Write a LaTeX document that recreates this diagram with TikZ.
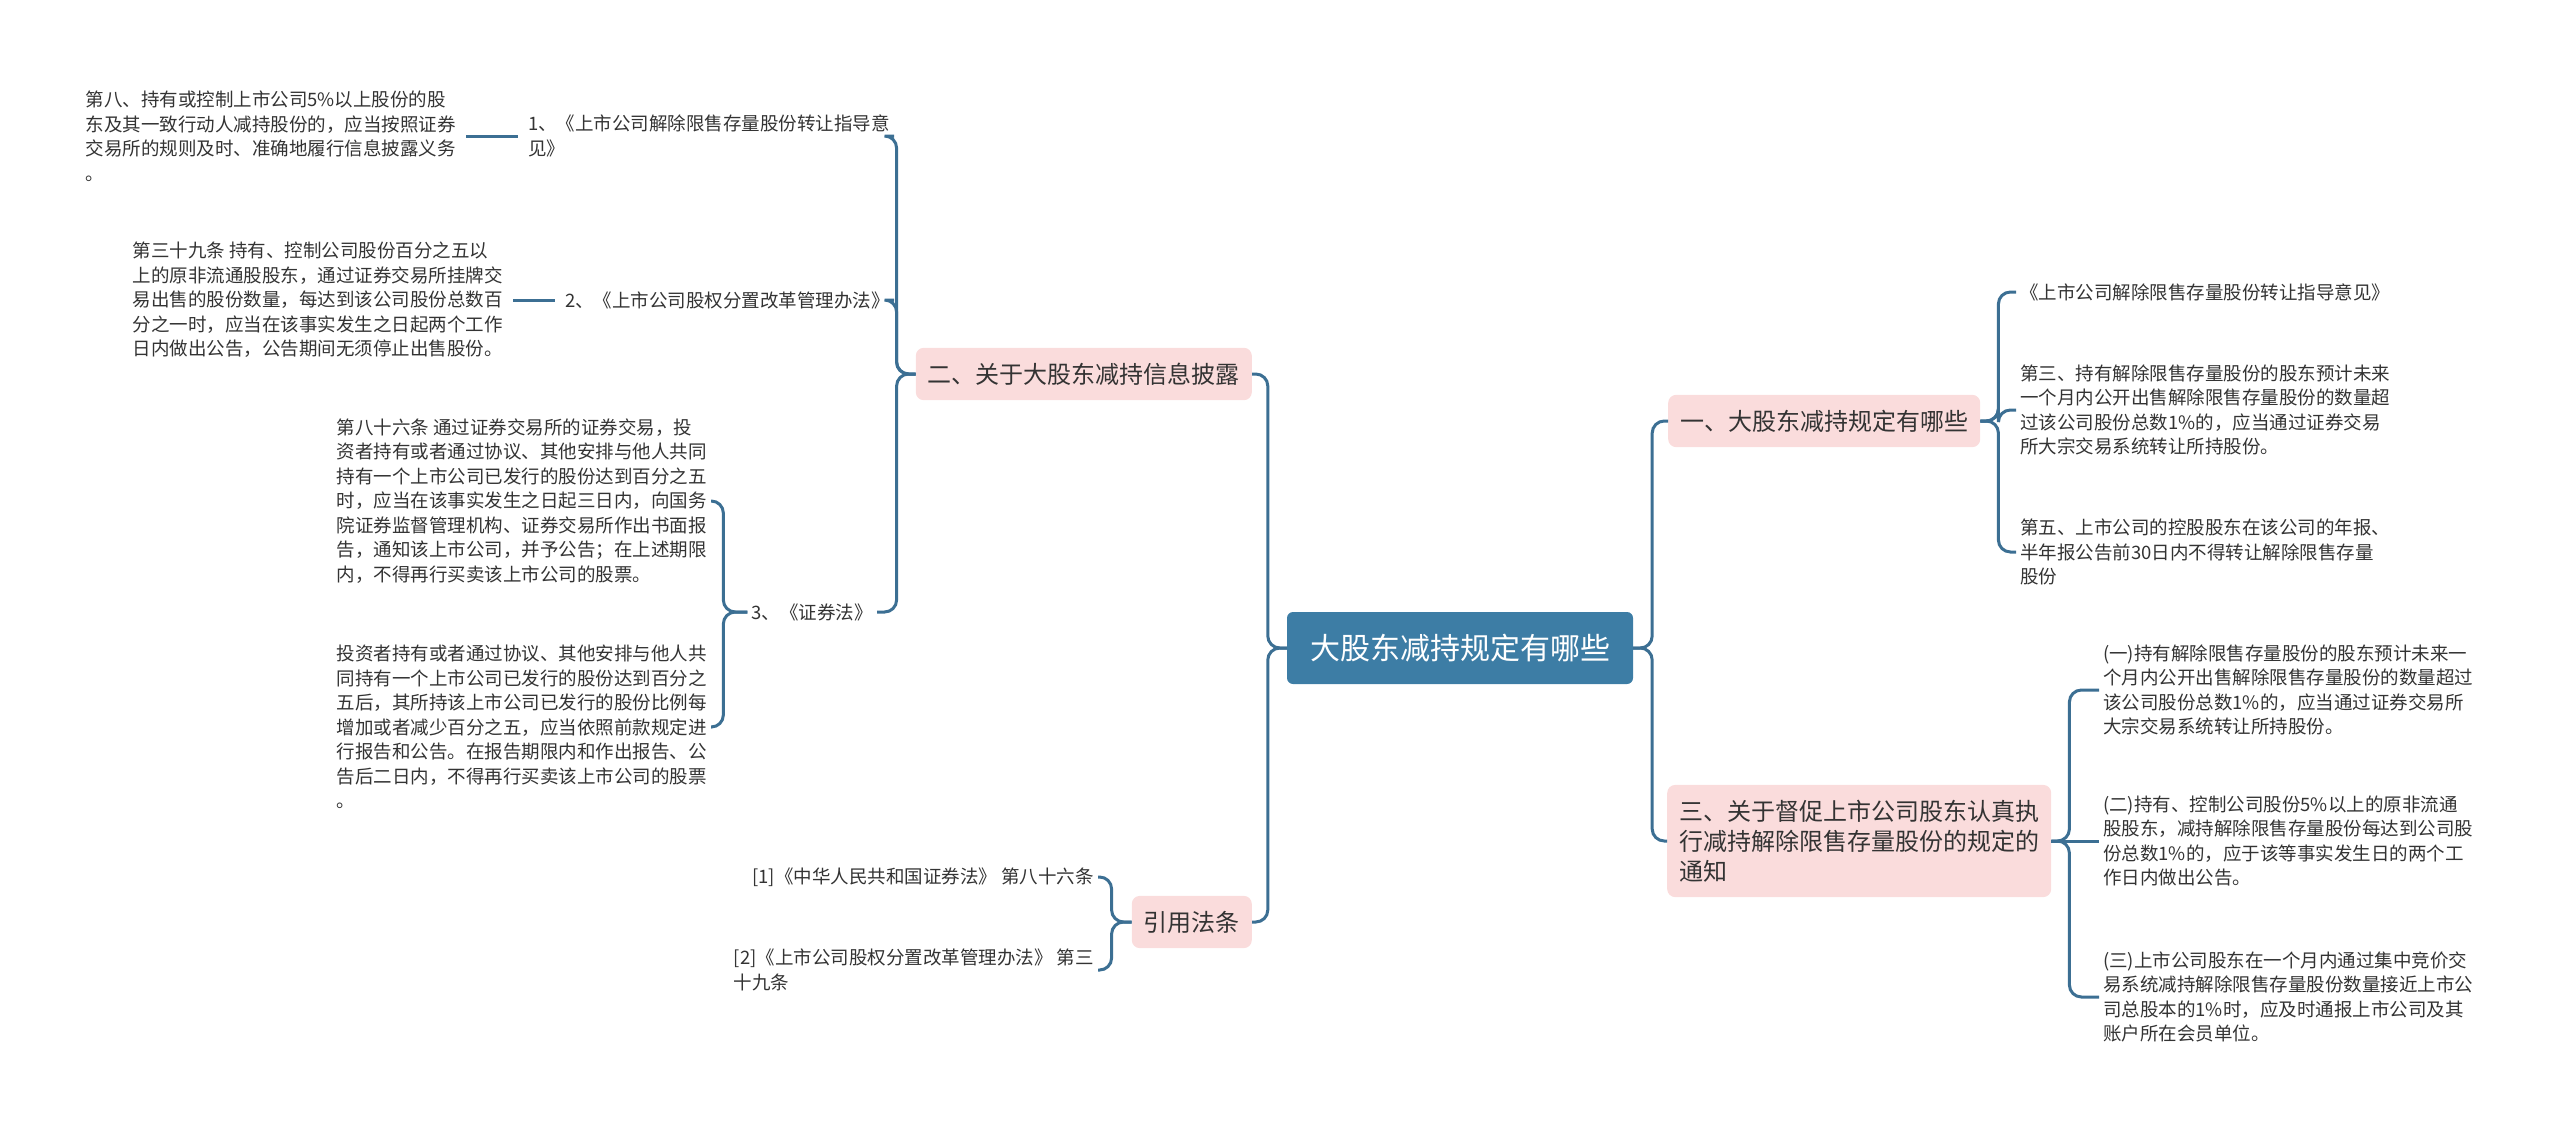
\documentclass[tikz,border=0pt]{standalone}
\usepackage{fontspec}
\setmainfont{Noto Sans CJK SC}
\usetikzlibrary{positioning}

\definecolor{linkblue}{HTML}{3C6F93}
\definecolor{rootblue}{HTML}{3D7DA5}
\definecolor{topicpink}{HTML}{FADCDC}
\definecolor{textgray}{HTML}{333333}

\begin{document}
\begin{tikzpicture}[
x=1pt, y=-1pt,
node distance=44pt,
rootbox/.style={fill=rootblue, rounded corners=6pt, text=white, font=\fontsize{30}{36}\selectfont, inner xsep=23pt, minimum height=72pt},
topic/.style={fill=topicpink, rounded corners=8pt, text=textgray, align=left, font=\fontsize{24}{30}\selectfont, inner xsep=12pt, inner ysep=15pt},
leaf/.style={text=textgray, align=left, inner sep=4pt, font=\fontsize{18.5}{24.5}\selectfont},
link/.style={draw=linkblue, line width=3pt, rounded corners=12pt}
]
\useasboundingbox (0,0) rectangle (2560,1132);

\node[rootbox] (root) at (1460,648) {大股东减持规定有哪些};

% right side
\node[topic, anchor=west] (rules) at (1668,421) {一、大股东减持规定有哪些};
\node[topic, anchor=west] (notice) at (1667,841) {三、关于督促上市公司股东认真执\\行减持解除限售存量股份的规定的\\通知};

\node[leaf, anchor=west] (rulesA) at (2016,292) {《上市公司解除限售存量股份转让指导意见》};
\node[leaf, anchor=west] (rulesB) at (2016,410) {第三、持有解除限售存量股份的股东预计未来\\一个月内公开出售解除限售存量股份的数量超\\过该公司股份总数1\%的，应当通过证券交易\\所大宗交易系统转让所持股份。};
\node[leaf, anchor=west] (rulesC) at (2016,552) {第五、上市公司的控股股东在该公司的年报、\\半年报公告前30日内不得转让解除限售存量\\股份};

\node[leaf, anchor=west] (noticeA) at (2099,690) {(一)持有解除限售存量股份的股东预计未来一\\个月内公开出售解除限售存量股份的数量超过\\该公司股份总数1\%的，应当通过证券交易所\\大宗交易系统转让所持股份。};
\node[leaf, anchor=west] (noticeB) at (2099,841) {(二)持有、控制公司股份5\%以上的原非流通\\股股东，减持解除限售存量股份每达到公司股\\份总数1\%的，应于该等事实发生日的两个工\\作日内做出公告。};
\node[leaf, anchor=west] (noticeC) at (2099,997) {(三)上市公司股东在一个月内通过集中竞价交\\易系统减持解除限售存量股份数量接近上市公\\司总股本的1\%时，应及时通报上市公司及其\\账户所在会员单位。};

% left side
\node[topic, anchor=east] (disclose) at (1252,374) {二、关于大股东减持信息披露};
\node[topic, anchor=east] (cite) at (1252,922) {引用法条};

\node[leaf, anchor=east] (lawA) at (894,136) {1、《上市公司解除限售存量股份转让指导意\\见》};
\node[leaf, anchor=east] (lawB) at (894,300) {2、《上市公司股权分置改革管理办法》};
\node[leaf, anchor=east] (lawC) at (877,612) {3、《证券法》};

\node[leaf, left=64pt of lawA] (lawAtext) {第八、持有或控制上市公司5\%以上股份的股\\东及其一致行动人减持股份的，应当按照证券\\交易所的规则及时、准确地履行信息披露义务\\。};
\node[leaf, left=54pt of lawB] (lawBtext) {第三十九条 持有、控制公司股份百分之五以\\上的原非流通股股东，通过证券交易所挂牌交\\易出售的股份数量，每达到该公司股份总数百\\分之一时，应当在该事实发生之日起两个工作\\日内做出公告，公告期间无须停止出售股份。};
\node[leaf, anchor=east] (lawCa) at (711,501) {第八十六条 通过证券交易所的证券交易，投\\资者持有或者通过协议、其他安排与他人共同\\持有一个上市公司已发行的股份达到百分之五\\时，应当在该事实发生之日起三日内，向国务\\院证券监督管理机构、证券交易所作出书面报\\告，通知该上市公司，并予公告；在上述期限\\内，不得再行买卖该上市公司的股票。};
\node[leaf, anchor=east] (lawCb) at (711,727) {投资者持有或者通过协议、其他安排与他人共\\同持有一个上市公司已发行的股份达到百分之\\五后，其所持该上市公司已发行的股份比例每\\增加或者减少百分之五，应当依照前款规定进\\行报告和公告。在报告期限内和作出报告、公\\告后二日内，不得再行买卖该上市公司的股票\\。};

\node[leaf, anchor=east] (citeA) at (1098,877) {[1]《中华人民共和国证券法》 第八十六条};
\node[leaf, anchor=east] (citeB) at (1098,970) {[2]《上市公司股权分置改革管理办法》 第三\\十九条};

% connectors
\draw[link] (root.east) -- ++(19,0) |- (rules.west);
\draw[link] (root.east) -- ++(19,0) |- (notice.west);
\draw[link] (root.west) -- ++(-19,0) |- (disclose.east);
\draw[link] (root.west) -- ++(-19,0) |- (cite.east);

\draw[link] (rules.east) -- ++(18,0) |- (rulesA.west);
\draw[link] (rules.east) -- ++(18,0) |- (rulesB.west);
\draw[link] (rules.east) -- ++(18,0) |- (rulesC.west);
\draw[link] (notice.east) -- ++(18,0) |- (noticeA.west);
\draw[link] (notice.east) -- (noticeB.west);
\draw[link] (notice.east) -- ++(18,0) |- (noticeC.west);

\draw[link] (disclose.west) -- ++(-19,0) |- (lawA.east);
\draw[link] (disclose.west) -- ++(-19,0) |- (lawB.east);
\draw[link] (disclose.west) -- ++(-19,0) |- (lawC.east);
\draw[link] ([xshift=-6pt]lawA.west) -- ([xshift=6pt]lawAtext.east);
\draw[link] ([xshift=-6pt]lawB.west) -- ([xshift=6pt]lawBtext.east);
\draw[link] (lawC.west) -- ++(-24,0) |- (lawCa.east);
\draw[link] (lawC.west) -- ++(-24,0) |- (lawCb.east);

\draw[link] (cite.west) -- ++(-20,0) |- (citeA.east);
\draw[link] (cite.west) -- ++(-20,0) |- (citeB.east);
\end{tikzpicture}
\end{document}
